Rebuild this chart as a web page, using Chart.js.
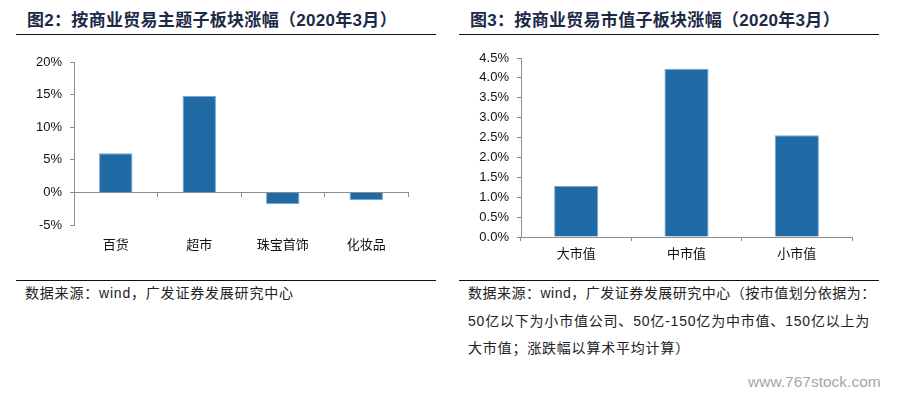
<!DOCTYPE html>
<html><head><meta charset="utf-8">
<script src="https://cdn.jsdelivr.net/npm/chart.js@4/dist/chart.umd.min.js"></script>
<style>
body{margin:0;background:#fff;width:898px;height:395px;overflow:hidden;position:relative;font-family:"Liberation Sans","Noto Sans CJK SC",sans-serif;}
.title{position:absolute;top:11px;height:20px;line-height:20px;font-size:17px;font-weight:bold;letter-spacing:0.3px;color:#1b2a47;white-space:nowrap;}
.rule{position:absolute;height:1px;background:#111;}
.src{position:absolute;top:280px;font-size:14px;line-height:27.5px;letter-spacing:0.8px;color:#222;white-space:nowrap;}
.wm{position:absolute;left:748px;top:372px;line-height:20px;font-size:15.5px;color:#a6a6a6;white-space:nowrap;}
canvas{position:absolute;top:0;}
</style></head>
<body>
<div class="title" style="left:27px">图2：按商业贸易主题子板块涨幅（2020年3月）</div>
<div class="title" style="left:470px">图3：按商业贸易市值子板块涨幅（2020年3月）</div>
<div class="rule" style="left:16px;width:420px;top:34px"></div>
<div class="rule" style="left:459px;width:420px;top:34px"></div>
<div class="rule" style="left:16px;width:420px;top:280px"></div>
<div class="rule" style="left:459px;width:420px;top:280px"></div>
<div class="src" style="left:25px">数据来源：wind，广发证券发展研究中心</div>
<div class="src" style="left:468px"><span style="letter-spacing:0.5px">数据来源：wind，广发证券发展研究中心（按市值划分依据为：</span><br>50亿以下为小市值公司、50亿-150亿为中市值、150亿以上为<br>大市值；涨跌幅以算术平均计算）</div>
<div class="wm">www.767stock.com</div>
<canvas id="c1" width="450" height="270" style="left:0"></canvas>
<canvas id="c2" width="448" height="270" style="left:450px"></canvas>
<script>
// ---- data ----
const themeCategories = ['百货', '超市', '珠宝首饰', '化妆品'];
const themeValues = [6.0, 14.8, -1.8, -1.2];
const themeYTicks = [-5, 0, 5, 10, 15, 20];

const capCategories = ['大市值', '中市值', '小市值'];
const capValues = [1.29, 4.23, 2.56];
const capYTicks = [0, 0.5, 1.0, 1.5, 2.0, 2.5, 3.0, 3.5, 4.0, 4.5];

// ---- style ----
const AXIS = '#8c8c8c';
const BAR = '#1f6aa5';
const BAR_EDGE = '#7aa7cf';
const LATIN = '"Liberation Sans", Arial, sans-serif';
const CJK = '"Noto Sans CJK SC", sans-serif';
Chart.defaults.font.family = LATIN;
Chart.defaults.color = '#111';

function barDataset(vals) {
  return {
    data: vals,
    backgroundColor: BAR,
    borderColor: BAR_EDGE,
    borderWidth: 1,
    barPercentage: 0.4,
    categoryPercentage: 1.0
  };
}
function yScale(ticksArr, fmt, width) {
  return {
    min: ticksArr[0],
    max: ticksArr[ticksArr.length - 1],
    afterBuildTicks: s => { s.ticks = ticksArr.map(v => ({value: v})); },
    afterFit: s => { s.width = width; },
    grid: {drawOnChartArea: false, drawTicks: true, tickLength: 4, color: AXIS},
    border: {display: true, color: AXIS, width: 1},
    ticks: {padding: 8, font: {size: 13, family: LATIN}, color: '#111', callback: fmt}
  };
}
const common = {
  responsive: false,
  animation: false,
  devicePixelRatio: 1,
  plugins: {legend: {display: false}, tooltip: {enabled: false}}
};

new Chart(document.getElementById('c1'), {
  type: 'bar',
  data: {labels: themeCategories, datasets: [barDataset(themeValues)]},
  options: Object.assign({}, common, {
    layout: {padding: {top: 62, right: 42, bottom: 5, left: 0}},
    scales: {
      x: {
        position: 'bottom', offset: true,
        grid: {display: false}, border: {display: false},
        ticks: {padding: 3, font: {family: CJK, size: 13}, color: '#111', maxRotation: 0, autoSkip: false},
        afterFit: s => { s.height = 40; }
      },
      x0: {
        type: 'category', position: {y: 0}, offset: true,
        grid: {offset: true, drawOnChartArea: false, drawTicks: true, tickLength: 4, color: AXIS},
        border: {display: true, color: AXIS, width: 1},
        ticks: {display: false}
      },
      y: yScale(themeYTicks, v => v + '%', 74)
    }
  })
});

new Chart(document.getElementById('c2'), {
  type: 'bar',
  data: {labels: capCategories, datasets: [barDataset(capValues)]},
  options: Object.assign({}, common, {
    layout: {padding: {top: 58, right: 46, bottom: 3, left: 0}},
    scales: {
      x: {
        position: 'bottom', offset: true,
        grid: {offset: true, drawOnChartArea: false, drawTicks: true, tickLength: 4, color: AXIS},
        border: {display: true, color: AXIS, width: 1},
        ticks: {padding: 4, font: {family: CJK, size: 13}, color: '#111', maxRotation: 0, autoSkip: false},
        afterFit: s => { s.height = 30; }
      },
      y: yScale(capYTicks, v => v.toFixed(1) + '%', 71)
    }
  })
});
</script>
</body></html>
